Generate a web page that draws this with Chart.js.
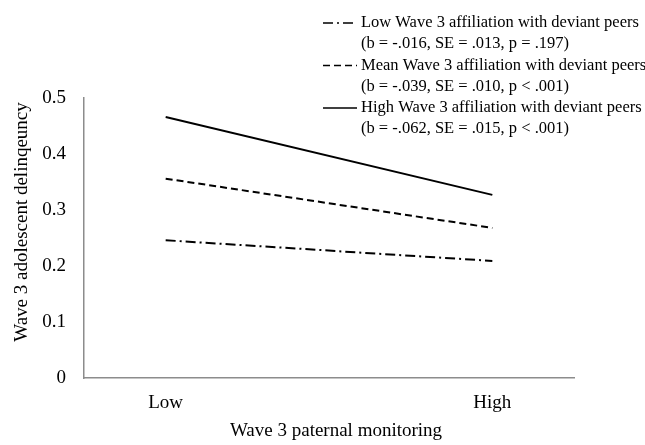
<!DOCTYPE html>
<html>
<head>
<meta charset="utf-8">
<script src="https://cdn.jsdelivr.net/npm/chart.js@4"></script>
<style>
  html, body { margin: 0; padding: 0; background: #fff; }
  #wrap { width: 645px; height: 445px; }
</style>
</head>
<body>
<div id="wrap"><canvas id="plot" width="645" height="445"></canvas></div>
<script>
// categories on the x axis
const monitoringLevels = ['Low', 'High'];

// predicted delinquency for each peer affiliation level
const lowPeers = [0.246, 0.209];
const meanPeers = [0.356, 0.268];
const highPeers = [0.466, 0.327];

// legend text
const seriesNames = [
  'Low Wave 3 affiliation with deviant peers',
  'Mean Wave 3 affiliation with deviant peers',
  'High Wave 3 affiliation with deviant peers'
];
const seriesStats = [
  '(b = -.016, SE = .013, p = .197)',
  '(b = -.039, SE = .010, p < .001)',
  '(b = -.062, SE = .015, p < .001)'
];

const yTicks = [0, 0.1, 0.2, 0.3, 0.4, 0.5];

const xTitle = 'Wave 3 paternal monitoring';
const yTitle = 'Wave 3 adolescent delinqeuncy';

const FONT = '"Liberation Serif", "Times New Roman", serif';
Chart.defaults.color = '#000';
Chart.defaults.font.family = FONT;

const toPoints = (vals) => vals.map((v, i) => ({ x: i, y: v }));

// legend drawn over the plot, top right
const lineLegend = {
  id: 'lineLegend',
  afterDraw(chart) {
    const ctx = chart.ctx;
    const x0 = 323, x1 = 357, tx = 361;
    let y = 23;
    ctx.save();
    ctx.font = '16.5px ' + FONT;
    ctx.fillStyle = '#000';
    ctx.textBaseline = 'middle';
    chart.data.datasets.forEach((ds, i) => {
      ctx.beginPath();
      ctx.setLineDash(ds.borderDash || []);
      ctx.lineWidth = 1.5;
      ctx.strokeStyle = '#000';
      ctx.moveTo(x0, y);
      ctx.lineTo(x1, y);
      ctx.stroke();
      ctx.setLineDash([]);
      ctx.fillText(seriesNames[i], tx, y);
      ctx.fillText(seriesStats[i], tx, y + 21);
      y += 42.5;
    });
    ctx.restore();
  }
};

// axis titles (the originals are not centred on the axes)
const axisTitles = {
  id: 'axisTitles',
  afterDraw(chart) {
    const ctx = chart.ctx;
    ctx.save();
    ctx.font = '19px ' + FONT;
    ctx.fillStyle = '#000';
    ctx.textAlign = 'center';
    ctx.textBaseline = 'alphabetic';
    ctx.fillText(xTitle, 336, 436);
    ctx.translate(27, 222);
    ctx.rotate(-Math.PI / 2);
    ctx.fillText(yTitle, 0, 0);
    ctx.restore();
  }
};

new Chart(document.getElementById('plot').getContext('2d'), {
  type: 'line',
  data: {
    datasets: [
      { label: seriesNames[0], data: toPoints(lowPeers), borderDash: [10, 4, 2, 4] },
      { label: seriesNames[1], data: toPoints(meanPeers), borderDash: [7, 4] },
      { label: seriesNames[2], data: toPoints(highPeers), borderDash: [] }
    ].map(d => Object.assign(d, {
      borderColor: '#000',
      borderWidth: 2,
      pointRadius: 0,
      fill: false,
      tension: 0
    }))
  },
  options: {
    responsive: false,
    animation: false,
    devicePixelRatio: 1,
    layout: { padding: { left: 0, right: 71, top: 98, bottom: 0 } },
    plugins: {
      legend: { display: false },
      tooltip: { enabled: false }
    },
    scales: {
      x: {
        type: 'linear',
        min: -0.25,
        max: 1.25,
        afterBuildTicks: (s) => { s.ticks = monitoringLevels.map((_, i) => ({ value: i })); },
        afterFit: (s) => { s.height = 67; },
        grid: { display: false },
        border: { color: '#8c8c8c', width: 1.5 },
        ticks: {
          callback: (v) => monitoringLevels[v],
          font: { size: 19 },
          padding: 6,
          maxRotation: 0
        }
      },
      y: {
        min: 0,
        max: 0.5,
        afterBuildTicks: (s) => { s.ticks = yTicks.map(v => ({ value: v })); },
        afterFit: (s) => { s.width = 84; },
        grid: { display: false },
        border: { color: '#8c8c8c', width: 1.5 },
        ticks: {
          callback: (v) => v === 0 ? '0' : v.toFixed(1),
          font: { size: 19 },
          padding: 10
        }
      }
    }
  },
  plugins: [lineLegend, axisTitles]
});
</script>
</body>
</html>
